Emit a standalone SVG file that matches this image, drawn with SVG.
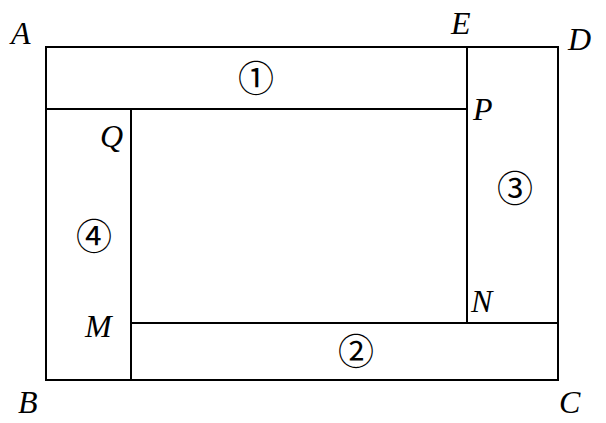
<svg xmlns="http://www.w3.org/2000/svg" width="606" height="423" viewBox="0 0 606 423">
<style>
.ln{stroke:#000;stroke-width:2;fill:none}
.lb{font-family:'Liberation Serif','DejaVu Serif',serif;font-style:italic;font-size:32px;fill:#000}
.nm{font-family:'Noto Sans CJK SC','DejaVu Sans',sans-serif;font-size:36px;fill:#000;text-anchor:middle}
</style>
<rect width="606" height="423" fill="#fff"/>
<g id="connectors">
<rect class="ln" x="46" y="47" width="512" height="333"/>
<line class="ln" x1="46" y1="109" x2="467" y2="109"/>
<line class="ln" x1="467" y1="47" x2="467" y2="323"/>
<line class="ln" x1="131" y1="323" x2="558" y2="323"/>
<line class="ln" x1="131" y1="109" x2="131" y2="380"/>
</g>
<g id="labels">
<text class="lb" x="11" y="44">A</text>
<text class="lb" x="451" y="34">E</text>
<text class="lb" x="568" y="50">D</text>
<text class="lb" x="473" y="120">P</text>
<text class="lb" x="100" y="147">Q</text>
<text class="lb" x="85" y="337">M</text>
<text class="lb" x="471" y="312">N</text>
<text class="lb" x="18" y="413">B</text>
<text class="lb" x="559" y="413">C</text>
</g>
<g id="region1"><text class="nm" x="256" y="92">①</text></g>
<g id="region2"><text class="nm" x="356" y="365">②</text></g>
<g id="region3"><text class="nm" x="515" y="202">③</text></g>
<g id="region4"><text class="nm" x="94" y="250">④</text></g>
</svg>
